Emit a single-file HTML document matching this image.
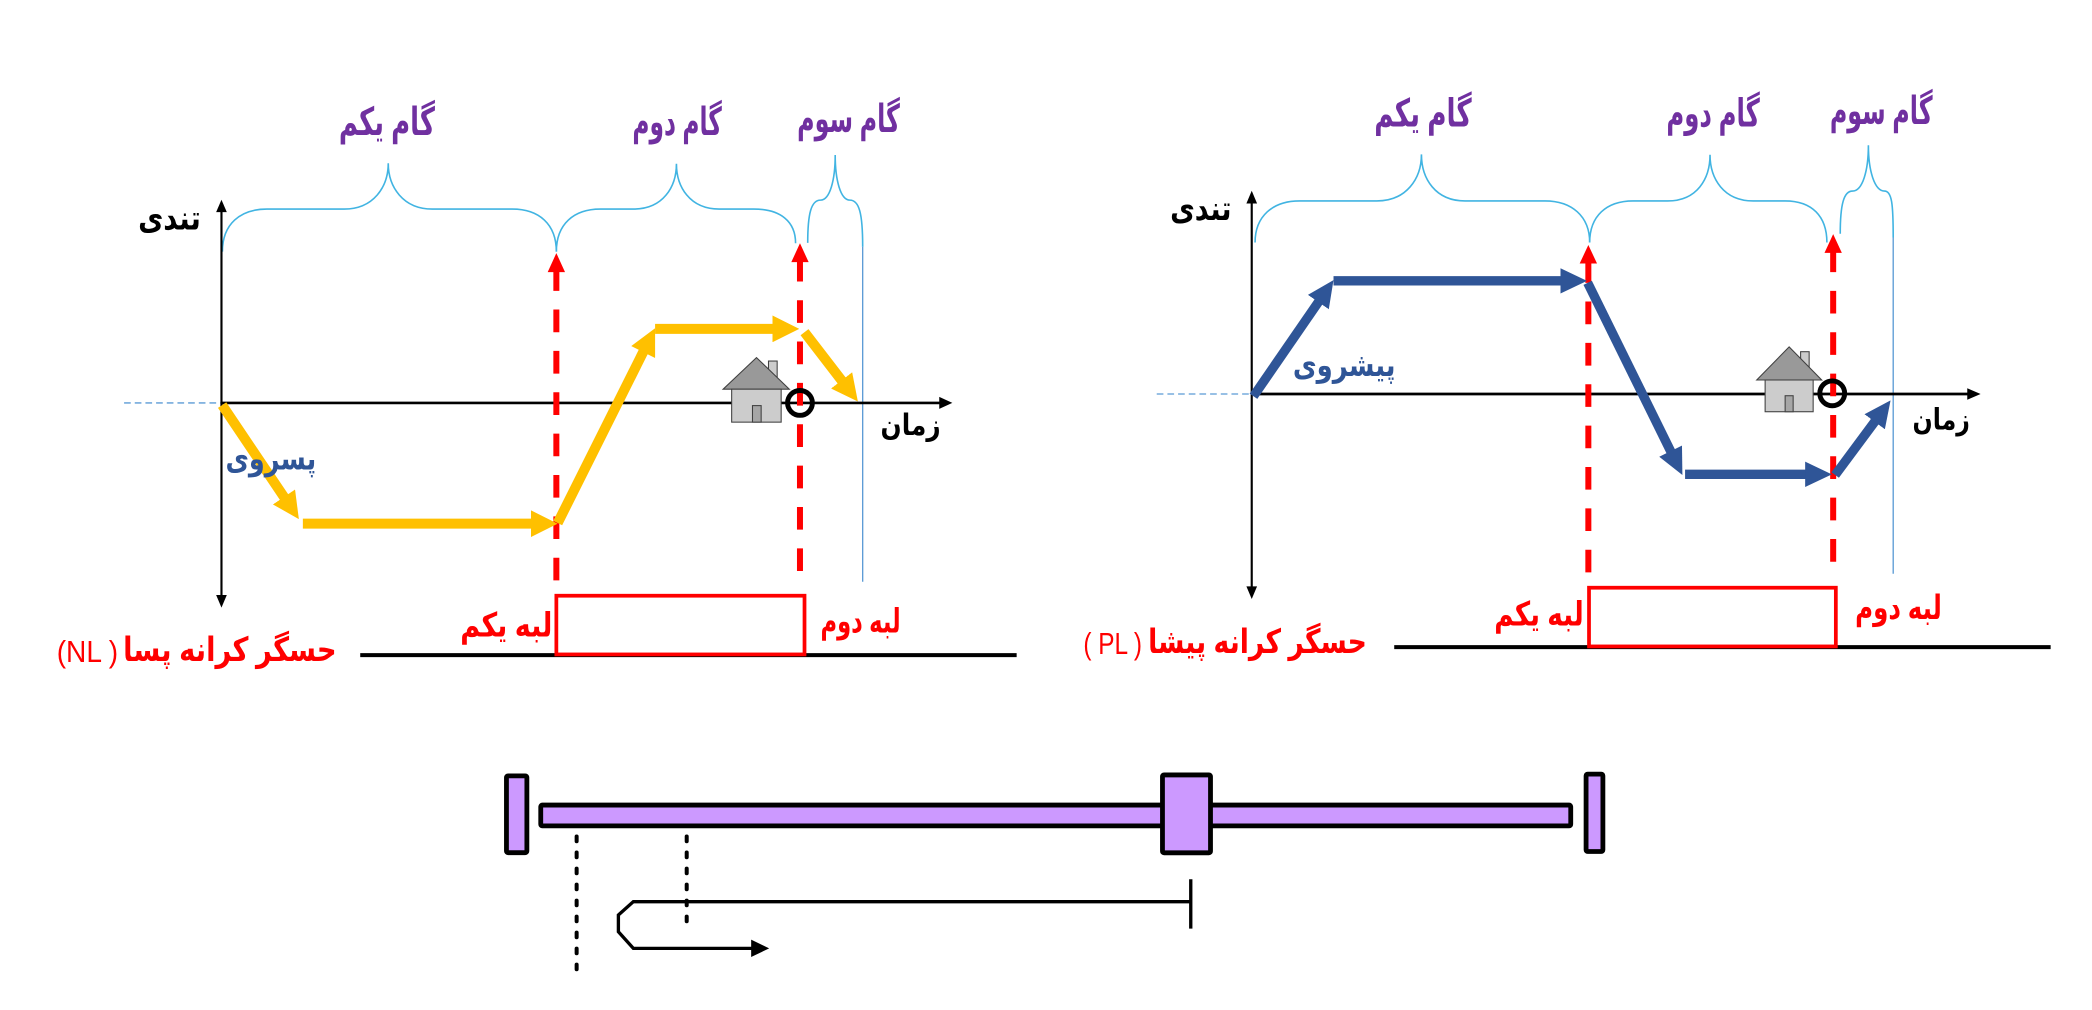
<!DOCTYPE html>
<html>
<head>
<meta charset="utf-8">
<style>
html,body{margin:0;padding:0;background:#fff;}
body{width:2092px;height:1010px;overflow:hidden;}
svg{display:block;}
.fa{font-family:"Liberation Sans","DejaVu Sans",sans-serif;font-weight:bold;}
.lat{font-family:"Liberation Sans",sans-serif;}
</style>
</head>
<body>
<svg width="2092" height="1010" viewBox="0 0 1568 757" preserveAspectRatio="none" xmlns="http://www.w3.org/2000/svg">
<defs>
  <marker id="ya" markerUnits="userSpaceOnUse" markerWidth="20" markerHeight="20" viewBox="0 0 20 20" refX="1" refY="10" orient="auto"><path d="M0,0 L20,10 L0,20 z" fill="#ffc000"/></marker>
  <marker id="ba" markerUnits="userSpaceOnUse" markerWidth="20" markerHeight="20" viewBox="0 0 20 20" refX="1" refY="10" orient="auto"><path d="M0,0.5 L20,10 L0,19.5 z" fill="#2f5597"/></marker>
</defs>
<rect x="0" y="0" width="1568" height="757" fill="#fff"/>

<!-- ================= LEFT CHART ================= -->
<g fill="none" stroke="#41b4e2" stroke-width="1.2">
  <path d="M166.7,188.6 C166.7,168 180,156.7 200,156.7 L258,156.7 C280,156.7 291,140 291,122.4 C291,140 302,156.7 324,156.7 L384,156.7 C404,156.7 417,168 417,188.6"/>
  <path d="M417,188.6 C417,168 430,156.7 450,156.7 L475,156.7 C497,156.7 507,140 507,122.7 C507,140 517,156.7 539,156.7 L565,156.7 C585,156.7 596.3,166 596.3,182.3"/>
  <path d="M605.4,182 C605.4,160 608,150 615,150 C622,150 626,135 626,116.2 C626,135 630,150 637,150 C644,150 646.6,160 646.6,185"/>
</g>
<line x1="646.6" y1="185" x2="646.6" y2="436" stroke="#5b9bd5" stroke-width="1"/>

<line x1="93" y1="302" x2="166" y2="302" stroke="#5b9bd5" stroke-width="1" stroke-dasharray="5 3"/>
<line x1="166" y1="157" x2="166" y2="447" stroke="#000" stroke-width="1.6"/>
<polygon points="166,149.7 162,159 170,159" fill="#000"/>
<polygon points="166,455.4 162,446 170,446" fill="#000"/>
<line x1="166" y1="302" x2="705" y2="302" stroke="#000" stroke-width="2"/>
<polygon points="713.8,302 704,297.5 704,306.5" fill="#000"/>

<g stroke="#ff0000" stroke-width="4.5" fill="none">
  <line x1="417" y1="203" x2="417" y2="437" stroke-dasharray="17 14" stroke-dashoffset="2"/>
  <line x1="599.6" y1="196" x2="599.6" y2="437" stroke-dasharray="17 14" stroke-dashoffset="2"/>
</g>
<polygon points="417,189.7 410.5,204 423.5,204" fill="#ff0000"/>
<polygon points="599.6,182.3 593.1,196.5 606.1,196.5" fill="#ff0000"/>

<g stroke="#ffc000" stroke-width="7.5" fill="none" marker-end="url(#ya)">
  <line x1="166.5" y1="303.6" x2="213.4" y2="373.3"/>
  <line x1="227" y1="392.5" x2="399" y2="392.5"/>
  <line x1="418" y1="392" x2="482.5" y2="263"/>
  <line x1="491" y1="246.5" x2="580" y2="246.5"/>
  <line x1="603" y1="249" x2="631.4" y2="285.9"/>
</g>

<g stroke="#404040" stroke-width="0.8">
  <rect x="576" y="270.6" width="6.5" height="16" fill="#cccccc"/>
  <polygon points="542,291.7 567,268 591.6,291.7" fill="#999999"/>
  <rect x="548.4" y="291.7" width="37.1" height="24.7" fill="#cccccc"/>
  <rect x="564" y="304" width="6.5" height="12.4" fill="#a6a6a6"/>
</g>
<circle cx="599.6" cy="302" r="9.3" fill="none" stroke="#000" stroke-width="3.7"/>

<line x1="270" y1="491" x2="762" y2="491" stroke="#000" stroke-width="3"/>
<rect x="417" y="446.5" width="186" height="44" fill="none" stroke="#ff0000" stroke-width="2.8"/>

<g class="fa" fill="#7030a0" font-size="29" text-anchor="middle">
  <text x="290" y="101" textLength="72" lengthAdjust="spacingAndGlyphs">گام یکم</text>
  <text x="507.5" y="101" textLength="67" lengthAdjust="spacingAndGlyphs">گام دوم</text>
  <text x="636" y="99" textLength="77" lengthAdjust="spacingAndGlyphs">گام سوم</text>
</g>
<text class="fa" x="127" y="172" font-size="25" text-anchor="middle" fill="#000" textLength="47" lengthAdjust="spacingAndGlyphs">تندی</text>
<text class="fa" x="203" y="352" font-size="24" text-anchor="middle" fill="#2f5597" textLength="68" lengthAdjust="spacingAndGlyphs">پسروی</text>
<text class="fa" x="682.5" y="326" font-size="22" text-anchor="middle" fill="#000" textLength="45" lengthAdjust="spacingAndGlyphs">زمان</text>
<g class="fa" fill="#ff0000" text-anchor="middle">
  <text x="379.5" y="477" font-size="25" textLength="69" lengthAdjust="spacingAndGlyphs">لبه یکم</text>
  <text x="645" y="474" font-size="25" textLength="60" lengthAdjust="spacingAndGlyphs">لبه دوم</text>
  <text x="172.3" y="495.5" font-size="25" textLength="160" lengthAdjust="spacingAndGlyphs">حسگر کرانه پسا</text>
</g>
<text class="lat" x="65.5" y="496" font-size="23" text-anchor="middle" fill="#ff0000" textLength="46" lengthAdjust="spacingAndGlyphs">(NL )</text>

<!-- ================= RIGHT CHART ================= -->
<g fill="none" stroke="#41b4e2" stroke-width="1.2">
  <path d="M940.7,181.8 C940.7,162 954,150.6 974,150.6 L1032,150.6 C1054,150.6 1065.4,134 1065.4,115.7 C1065.4,134 1076,150.6 1098,150.6 L1158,150.6 C1178,150.6 1191.5,162 1191.5,181.8"/>
  <path d="M1191.5,181.8 C1191.5,162 1204,150.6 1224,150.6 L1250,150.6 C1272,150.6 1281.7,134 1281.7,116 C1281.7,134 1292,150.6 1314,150.6 L1338,150.6 C1358,150.6 1369.3,162 1369.3,181.8"/>
  <path d="M1379.3,175.2 C1379.3,153 1382,143.2 1388.5,143.2 C1396,143.2 1400.4,128 1400.4,108.9 C1400.4,128 1405,143.2 1412.5,143.2 C1418,143.2 1419,153 1419,178"/>
</g>
<line x1="1419" y1="178" x2="1419" y2="430" stroke="#5b9bd5" stroke-width="1"/>

<line x1="867" y1="295.3" x2="938.2" y2="295.3" stroke="#5b9bd5" stroke-width="1" stroke-dasharray="5 3"/>
<line x1="938.2" y1="150" x2="938.2" y2="441" stroke="#000" stroke-width="1.6"/>
<polygon points="938.2,143 934.2,152.5 942.2,152.5" fill="#000"/>
<polygon points="938.2,449 934.2,439.5 942.2,439.5" fill="#000"/>
<line x1="938.2" y1="295.3" x2="1476" y2="295.3" stroke="#000" stroke-width="2"/>
<polygon points="1484.5,295.3 1474.5,291 1474.5,299.6" fill="#000"/>

<g stroke="#ff0000" stroke-width="4.5" fill="none">
  <line x1="1190.5" y1="197" x2="1190.5" y2="429" stroke-dasharray="17 14" stroke-dashoffset="2"/>
  <line x1="1374" y1="189" x2="1374" y2="429" stroke-dasharray="17 14" stroke-dashoffset="2"/>
</g>
<polygon points="1190.5,183.6 1184,197.5 1197,197.5" fill="#ff0000"/>
<polygon points="1374,175.5 1367.5,189.5 1380.5,189.5" fill="#ff0000"/>

<g stroke="#2f5597" stroke-width="7" fill="none" marker-end="url(#ba)">
  <line x1="939.5" y1="297" x2="988.7" y2="225.6"/>
  <line x1="999.5" y1="210.5" x2="1170.5" y2="210.5"/>
  <line x1="1190" y1="212" x2="1252.6" y2="339"/>
  <line x1="1263" y1="355.5" x2="1354" y2="355.5"/>
  <line x1="1375.5" y1="356" x2="1405.7" y2="315.3"/>
</g>

<g stroke="#404040" stroke-width="0.8">
  <rect x="1349.6" y="263.6" width="6.4" height="16" fill="#cccccc"/>
  <polygon points="1316.7,284.8 1341,260 1365.4,284.8" fill="#999999"/>
  <rect x="1323" y="284.8" width="36" height="23.8" fill="#cccccc"/>
  <rect x="1338" y="296.6" width="6" height="12" fill="#a6a6a6"/>
</g>
<circle cx="1373.3" cy="294.8" r="9.3" fill="none" stroke="#000" stroke-width="3.7"/>

<line x1="1045" y1="485" x2="1537" y2="485" stroke="#000" stroke-width="3"/>
<rect x="1191" y="440.5" width="185" height="44" fill="none" stroke="#ff0000" stroke-width="2.8"/>

<g class="fa" fill="#7030a0" font-size="29" text-anchor="middle">
  <text x="1066.5" y="95" textLength="73" lengthAdjust="spacingAndGlyphs">گام یکم</text>
  <text x="1284" y="95" textLength="70" lengthAdjust="spacingAndGlyphs">گام دوم</text>
  <text x="1410" y="93" textLength="77" lengthAdjust="spacingAndGlyphs">گام سوم</text>
</g>
<text class="fa" x="900" y="165" font-size="25" text-anchor="middle" fill="#000" textLength="46" lengthAdjust="spacingAndGlyphs">تندی</text>
<text class="fa" x="1007.5" y="282" font-size="24" text-anchor="middle" fill="#2f5597" textLength="77" lengthAdjust="spacingAndGlyphs">پیشروی</text>
<text class="fa" x="1455" y="322" font-size="22" text-anchor="middle" fill="#000" textLength="43" lengthAdjust="spacingAndGlyphs">زمان</text>
<g class="fa" fill="#ff0000" text-anchor="middle">
  <text x="1153.5" y="469" font-size="25" textLength="67" lengthAdjust="spacingAndGlyphs">لبه یکم</text>
  <text x="1423" y="464" font-size="25" textLength="65" lengthAdjust="spacingAndGlyphs">لبه دوم</text>
  <text x="942.5" y="489.5" font-size="25" textLength="164" lengthAdjust="spacingAndGlyphs">حسگر کرانه پیشا</text>
</g>
<text class="lat" x="834" y="490" font-size="23" text-anchor="middle" fill="#ff0000" textLength="44" lengthAdjust="spacingAndGlyphs">( PL )</text>

<!-- ================= BOTTOM FIGURE ================= -->
<g fill="#cc99ff" stroke="#000" stroke-width="3.6">
  <rect x="379.6" y="581.5" width="15.3" height="57.6" rx="1.2"/>
  <rect x="405.3" y="603.4" width="772" height="15.6" rx="1.2"/>
  <rect x="871.3" y="580.8" width="36" height="58.4" rx="1.2"/>
  <rect x="1188.8" y="580.2" width="12.6" height="58" rx="1.2"/>
</g>
<g stroke="#000" stroke-width="3" stroke-linecap="round" stroke-dasharray="3.5 8.5">
  <line x1="432.2" y1="627" x2="432.2" y2="727"/>
  <line x1="514.7" y1="627" x2="514.7" y2="699"/>
</g>
<polyline points="892,675.8 474.7,675.8 463.5,685.8 463.5,698.3 474.7,710.8 564,710.8" fill="none" stroke="#000" stroke-width="2.5" stroke-linejoin="miter"/>
<line x1="892.5" y1="659" x2="892.5" y2="696" stroke="#000" stroke-width="2.5"/>
<polygon points="576.5,710.8 563,704.3 563,717.3" fill="#000"/>
</svg>
</body>
</html>
